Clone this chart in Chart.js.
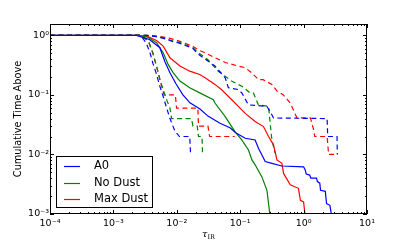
<!DOCTYPE html>
<html><head><meta charset="utf-8">
<style>html,body{margin:0;padding:0;background:#fff;}#wrap{width:407px;height:252px;}</style>
<script src="https://cdn.jsdelivr.net/npm/chart.js@4/dist/chart.umd.min.js"></script>
</head><body><div id="wrap"><canvas id="c" width="407" height="252"></canvas></div>
<script>
// ---- tick labels ----
const xTickValues = [1e-4, 1e-3, 1e-2, 1e-1, 1, 10];
const xTickLabels = ['10\u207B\u2074', '10\u207B\u00B3', '10\u207B\u00B2', '10\u207B\u00B9', '10\u2070', '10\u00B9'];
const yTickValues = [1e-3, 1e-2, 1e-1, 1];
const yTickLabels = ['10\u207B\u00B3', '10\u207B\u00B2', '10\u207B\u00B9', '10\u2070'];
const seriesNames = ['A0', 'No Dust', 'Max Dust'];

// ---- solid curves ----
const a0X = [1e-4, 0.0023, 0.0037, 0.0054, 0.0065, 0.0078, 0.0097, 0.0125, 0.0161, 0.0232, 0.031, 0.048, 0.069, 0.086, 0.12, 0.172, 0.194, 0.22, 0.248, 0.316, 0.455, 1.0, 1.06, 1.1, 1.25, 1.3, 1.6, 1.65, 1.8, 1.85, 2.2, 2.3, 2.6, 2.7, 2.8];
const a0Y = [1, 1, 0.85, 0.62, 0.36, 0.235, 0.154, 0.1, 0.0736, 0.058, 0.044, 0.0335, 0.028, 0.023, 0.0187, 0.0175, 0.0127, 0.0098, 0.0076, 0.0071, 0.0064, 0.0062, 0.0055, 0.0047, 0.0045, 0.004, 0.004, 0.0035, 0.0033, 0.0025, 0.0024, 0.0015, 0.0014, 0.0011, 0.0009];
const noDustX = [1e-4, 0.0025, 0.0035, 0.0048, 0.0061, 0.0073, 0.0088, 0.0112, 0.016, 0.023, 0.0377, 0.040, 0.058, 0.083, 0.106, 0.135, 0.153, 0.172, 0.22, 0.264, 0.28, 0.29, 0.295];
const noDustY = [1, 1, 0.93, 0.75, 0.51, 0.325, 0.235, 0.171, 0.132, 0.108, 0.083, 0.073, 0.043, 0.024, 0.0175, 0.0119, 0.0081, 0.0067, 0.0042, 0.0025, 0.0015, 0.0011, 0.0009];
const maxDustX = [1e-4, 0.0025, 0.0035, 0.0048, 0.0061, 0.0078, 0.0112, 0.016, 0.023, 0.0279, 0.040, 0.051, 0.0736, 0.12, 0.172, 0.233, 0.28, 0.335, 0.38, 0.455, 0.483, 0.616, 0.83, 0.89, 1.0, 1.06];
const maxDustY = [1, 1, 0.95, 0.82, 0.66, 0.42, 0.305, 0.25, 0.22, 0.194, 0.15, 0.122, 0.083, 0.049, 0.0357, 0.0294, 0.02, 0.0145, 0.0081, 0.0071, 0.0048, 0.0031, 0.0027, 0.0017, 0.0016, 0.0009];

// ---- dashed curves (upper set) ----
const a0UpX = [1e-4, 0.0033, 0.0045, 0.006, 0.0088, 0.011, 0.018, 0.022, 0.031, 0.04, 0.058, 0.065, 0.093, 0.106, 0.135, 0.264, 0.297, 0.335, 2.35, 2.4, 3.37, 3.4];
const a0UpY = [1, 1, 0.96, 0.9, 0.78, 0.74, 0.6, 0.48, 0.37, 0.305, 0.194, 0.132, 0.123, 0.108, 0.068, 0.064, 0.0525, 0.041, 0.04, 0.02, 0.02, 0.01];
const noDustUpX = [1e-4, 0.0033, 0.0045, 0.006, 0.0088, 0.011, 0.018, 0.022, 0.031, 0.045, 0.074, 0.106, 0.143, 0.162, 0.194, 0.28, 0.297, 0.316, 0.356];
const noDustUpY = [1, 1, 0.97, 0.92, 0.8, 0.76, 0.62, 0.51, 0.39, 0.25, 0.17, 0.14, 0.108, 0.107, 0.068, 0.064, 0.0335, 0.0175, 0.0105];
const maxDustUpX = [1e-4, 0.0035, 0.005, 0.0075, 0.011, 0.018, 0.022, 0.031, 0.058, 0.093, 0.12, 0.152, 0.195, 0.23, 0.316, 0.38, 0.48, 0.616, 0.787, 1.28, 1.44, 1.5, 2.35, 2.48, 3.37];
const maxDustUpY = [1, 1, 0.97, 0.9, 0.8, 0.65, 0.57, 0.48, 0.35, 0.305, 0.286, 0.235, 0.18, 0.18, 0.15, 0.116, 0.1, 0.073, 0.041, 0.041, 0.026, 0.02, 0.02, 0.01, 0.01];

// ---- dashed curves (lower set) ----
const a0LoX = [1e-4, 0.0027, 0.0033, 0.0038, 0.0042, 0.0048, 0.0054, 0.0061, 0.0068, 0.0078, 0.0093, 0.011, 0.016, 0.0165];
const a0LoY = [1, 1, 0.74, 0.5, 0.34, 0.22, 0.14, 0.094, 0.064, 0.04, 0.025, 0.02, 0.02, 0.01];
const noDustLoX = [1e-4, 0.0028, 0.0036, 0.0042, 0.0048, 0.0055, 0.0063, 0.007, 0.0078, 0.0083, 0.017, 0.018, 0.021, 0.022, 0.025, 0.0255];
const noDustLoY = [1, 1, 0.78, 0.5, 0.3, 0.17, 0.11, 0.08, 0.06, 0.04, 0.04, 0.03, 0.03, 0.02, 0.02, 0.01];
const maxDustLoX = [1e-4, 0.0028, 0.0036, 0.0042, 0.0048, 0.0055, 0.006, 0.0063, 0.0095, 0.0099, 0.0215, 0.022, 0.031, 0.033, 0.082];
const maxDustLoY = [1, 1, 0.78, 0.5, 0.3, 0.17, 0.12, 0.1, 0.1, 0.06, 0.06, 0.03, 0.03, 0.02, 0.02];

const colors = ['#0000ff', '#008000', '#ff0000'];

function pts(xs, ys) { return xs.map((x, i) => ({x: x, y: ys[i]})); }
function ds(label, xs, ys, color, dashed) {
  return {label: label, data: pts(xs, ys), borderColor: color, borderWidth: 1.2, pointRadius: 0,
          fill: false, tension: 0, borderDash: dashed ? [5, 3.5] : []};
}
const datasets = [
  ds(seriesNames[0], a0X, a0Y, colors[0], false),
  ds(seriesNames[1], noDustX, noDustY, colors[1], false),
  ds(seriesNames[2], maxDustX, maxDustY, colors[2], false),
  ds(seriesNames[0] + ' upper', a0UpX, a0UpY, colors[0], true),
  ds(seriesNames[1] + ' upper', noDustUpX, noDustUpY, colors[1], true),
  ds(seriesNames[2] + ' upper', maxDustUpX, maxDustUpY, colors[2], true),
  ds(seriesNames[0] + ' lower', a0LoX, a0LoY, colors[0], true),
  ds(seriesNames[1] + ' lower', noDustLoX, noDustLoY, colors[1], true),
  ds(seriesNames[2] + ' lower', maxDustLoX, maxDustLoY, colors[2], true)
];

const decor = {
  id: 'decor',
  afterDatasetsDraw(chart) {
    const {ctx, chartArea: a, scales: {x, y}} = chart;
    ctx.save();
    ctx.strokeStyle = '#000'; ctx.lineWidth = 1; ctx.setLineDash([]);
    ctx.beginPath();
    for (let d = -4; d <= 1; d++) {
      for (let k = 1; k <= 9; k++) {
        const v = k * Math.pow(10, d);
        if (v > 10.0001) break;
        const px = Math.round(x.getPixelForValue(v)) + 0.5;
        const L = k === 1 ? 4 : 2;
        ctx.moveTo(px, a.bottom); ctx.lineTo(px, a.bottom - L);
        ctx.moveTo(px, a.top); ctx.lineTo(px, a.top + L);
      }
    }
    for (let d = -3; d <= 0; d++) {
      for (let k = 1; k <= 9; k++) {
        const v = k * Math.pow(10, d);
        if (v > y.max) break;
        const py = Math.round(y.getPixelForValue(v)) + 0.5;
        const L = k === 1 ? 4 : 2;
        ctx.moveTo(a.left, py); ctx.lineTo(a.left + L, py);
        ctx.moveTo(a.right, py); ctx.lineTo(a.right - L, py);
      }
    }
    ctx.stroke();
    ctx.strokeRect(a.left + 0.5, a.top + 0.5, a.right - a.left - 1, a.bottom - a.top - 1);

    // legend
    const lx = 56.5, ly = 156.5, lw = 96, lh = 51;
    ctx.fillStyle = '#fff';
    ctx.fillRect(lx, ly, lw, lh);
    ctx.strokeStyle = '#000';
    ctx.strokeRect(lx, ly, lw, lh);
    ctx.font = '11.5px "DejaVu Sans"';
    ctx.textBaseline = 'middle'; ctx.textAlign = 'left';
    const rows = [166, 182.7, 199.3];
    for (let i = 0; i < 3; i++) {
      ctx.strokeStyle = colors[i];
      ctx.lineWidth = 1.2;
      ctx.beginPath(); ctx.moveTo(64, Math.round(rows[i]) + 0.5); ctx.lineTo(80, Math.round(rows[i]) + 0.5); ctx.stroke();
      ctx.fillStyle = '#000';
      ctx.fillText(chart.data.datasets[i].label, 94, rows[i]);
    }

    // axis titles
    ctx.fillStyle = '#000';
    ctx.save();
    ctx.translate(18, (a.top + a.bottom) / 2);
    ctx.rotate(-Math.PI / 2);
    ctx.textAlign = 'center'; ctx.textBaseline = 'middle';
    ctx.font = '9.75px "DejaVu Sans"';
    ctx.fillText('Cumulative Time Above', 0, 0);
    ctx.restore();

    ctx.textAlign = 'left'; ctx.textBaseline = 'alphabetic';
    ctx.font = 'italic 10px "DejaVu Serif"';
    const t1 = 'τ', t2 = 'IR';
    const w1 = ctx.measureText(t1).width;
    ctx.font = '6.5px "DejaVu Serif"';
    const w2 = ctx.measureText(t2).width;
    const cx = (a.left + a.right) / 2 - (w1 + w2) / 2;
    ctx.font = 'italic 10px "DejaVu Serif"';
    ctx.fillText(t1, cx, 237);
    ctx.font = '6.5px "DejaVu Serif"';
    ctx.fillText(t2, cx + w1, 239);
    ctx.restore();
  }
};

new Chart(document.getElementById('c'), {
  type: 'line',
  data: {datasets: datasets},
  options: {
    responsive: false, animation: false, devicePixelRatio: 1,
    layout: {padding: {top: 24, right: 40, left: 0, bottom: 0}},
    plugins: {legend: {display: false}, tooltip: {enabled: false}},
    scales: {
      x: {
        type: 'logarithmic', min: 1e-4, max: 10,
        afterBuildTicks: s => { s.ticks = xTickValues.map(v => ({value: v, major: true})); },
        afterFit: s => { s.height = 38; },
        ticks: {callback: (v, i) => xTickLabels[i], color: '#000', font: {family: 'DejaVu Sans', size: 9.5},
                padding: 4, maxRotation: 0, minRotation: 0, autoSkip: false},
        grid: {display: false, drawTicks: false},
        border: {display: false}
      },
      y: {
        type: 'logarithmic', min: 1e-3, max: 1.55,
        afterBuildTicks: s => { s.ticks = yTickValues.map(v => ({value: v, major: true})); },
        afterFit: s => { s.width = 50; },
        ticks: {callback: (v, i) => yTickLabels[i], color: '#000', font: {family: 'DejaVu Sans', size: 9.5},
                padding: 1, autoSkip: false},
        grid: {display: false, drawTicks: false},
        border: {display: false}
      }
    }
  },
  plugins: [decor]
});
</script>
</body></html>
